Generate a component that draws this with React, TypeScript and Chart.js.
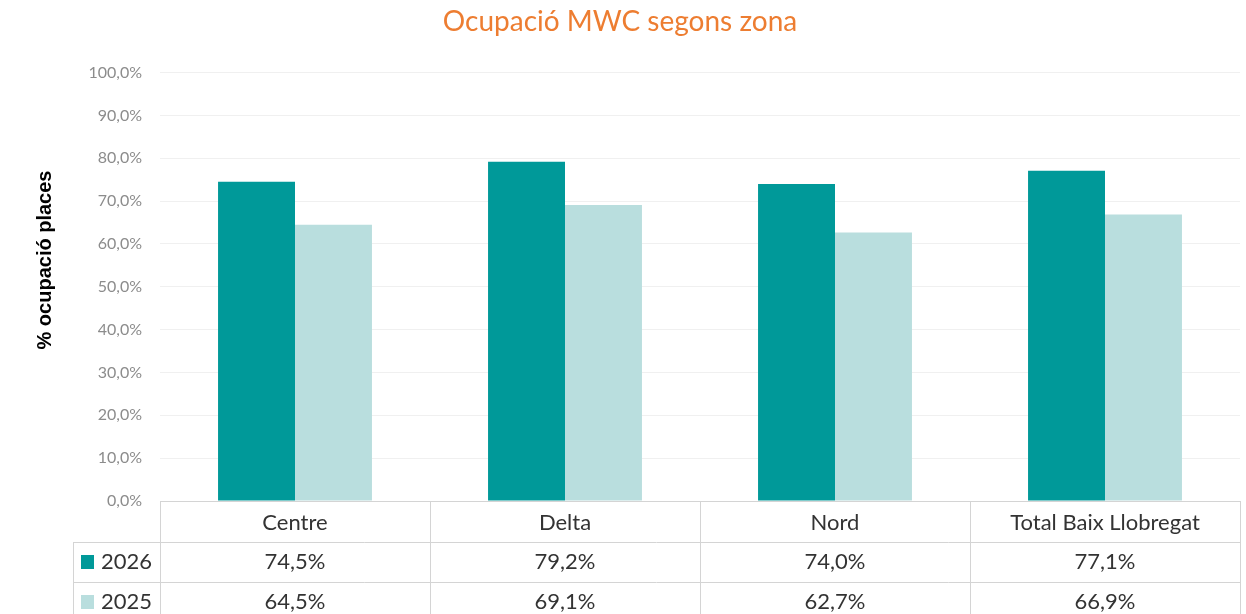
import React, { useEffect, useRef } from "react";
import { Chart, registerables } from "chart.js";

Chart.register(...registerables);

const titleText = "Ocupació MWC segons zona";
const yAxisTitle = "% ocupació places";
const categories = ["Centre", "Delta", "Nord", "Total Baix Llobregat"];
const seriesNames = ["2026", "2025"];
const values2026 = [74.5, 79.2, 74.0, 77.1];
const values2025 = [64.5, 69.1, 62.7, 66.9];
const seriesColors = ["#009999", "#B9DEDE"];

const fmtPct = (v: number) => v.toFixed(1).replace(".", ",") + "%";

const tablePlugin = {
  id: "dataTable",
  afterDraw(chart: any) {
    const { ctx, chartArea } = chart;
    const left = chartArea.left;
    const right = chartArea.right;
    const top = chartArea.bottom;
    const headerH = 41;
    const rowH = 40;
    const legendLeft = 73;
    const n = categories.length;
    const w = (right - left) / n;
    const bottom = top + headerH + rowH * 2 + 10;
    ctx.save();
    ctx.strokeStyle = "#d4d4d4";
    ctx.lineWidth = 1;
    ctx.beginPath();
    for (let r = 1; r <= 2; r++) {
      const y = Math.round(top + headerH + rowH * (r - 1)) + 0.5;
      ctx.moveTo(legendLeft, y);
      ctx.lineTo(right, y);
    }
    for (let i = 0; i <= n; i++) {
      const x = Math.round(left + w * i) + 0.5;
      ctx.moveTo(x, top);
      ctx.lineTo(x, bottom);
    }
    const lx = legendLeft + 0.5;
    ctx.moveTo(lx, top + headerH);
    ctx.lineTo(lx, bottom);
    ctx.stroke();

    ctx.font = "22px Lato";
    ctx.textBaseline = "middle";
    const rows = [values2026, values2025];
    rows.forEach((vals, r) => {
      const cy = top + headerH + rowH * r + rowH / 2;
      ctx.textAlign = "center";
      vals.forEach((v, i) => {
        ctx.fillStyle = "#333333";
        ctx.fillText(fmtPct(v), left + w * i + w / 2, cy);
      });
      ctx.fillStyle = seriesColors[r];
      ctx.fillRect(81, cy - 7, 13, 14);
      ctx.fillStyle = "#333333";
      ctx.textAlign = "left";
      ctx.fillText(seriesNames[r], 101, cy);
    });

    ctx.save();
    ctx.translate(45, 260);
    ctx.rotate(-Math.PI / 2);
    ctx.font = "bold 20px 'Liberation Sans'";
    ctx.fillStyle = "#000000";
    ctx.textAlign = "center";
    ctx.textBaseline = "middle";
    ctx.fillText(yAxisTitle, 0, 0);
    ctx.restore();
    ctx.restore();
  },
};

export default function App() {
  const ref = useRef<HTMLCanvasElement>(null);
  useEffect(() => {
    if (!ref.current) return;
    const chart = new Chart(ref.current, {
      type: "bar",
      data: {
        labels: categories,
        datasets: [
          {
            label: seriesNames[0],
            data: values2026,
            backgroundColor: seriesColors[0],
            barPercentage: 1,
            categoryPercentage: 0.57,
          },
          {
            label: seriesNames[1],
            data: values2025,
            backgroundColor: seriesColors[1],
            barPercentage: 1,
            categoryPercentage: 0.57,
          },
        ],
      },
      options: {
        responsive: false,
        animation: false,
        layout: { padding: { left: 0, right: 6, top: 0, bottom: 0 } },
        plugins: {
          legend: { display: false },
          tooltip: { enabled: false },
          title: {
            display: true,
            text: titleText,
            color: "#ED7D31",
            font: { family: "Lato", size: 28, weight: "normal" },
            padding: { top: 5, bottom: 34 },
          },
        },
        scales: {
          x: {
            grid: { display: false, drawTicks: false },
            border: { display: true, color: "#d4d4d4" },
            ticks: {
              color: "#333333",
              font: { family: "Lato", size: 22 },
              padding: 9,
              maxRotation: 0,
            },
            afterFit: (s: any) => {
              s.height = 113;
            },
          },
          y: {
            min: 0,
            max: 100,
            grid: { color: "#f0f0f0", drawTicks: false },
            border: { display: false },
            ticks: {
              stepSize: 10,
              color: "#8c8c8c",
              font: { family: "Lato", size: 16 },
              padding: 18,
              callback: (v: any) => fmtPct(Number(v)),
            },
            afterFit: (s: any) => {
              s.width = 160;
            },
          },
        },
      },
      plugins: [tablePlugin],
    });
    return () => chart.destroy();
  }, []);
  return (
    <div style={{ position: "absolute", left: 0, top: 0, width: 1246, height: 614, background: "#fff" }}>
      <canvas ref={ref} width={1246} height={614} />
    </div>
  );
}
